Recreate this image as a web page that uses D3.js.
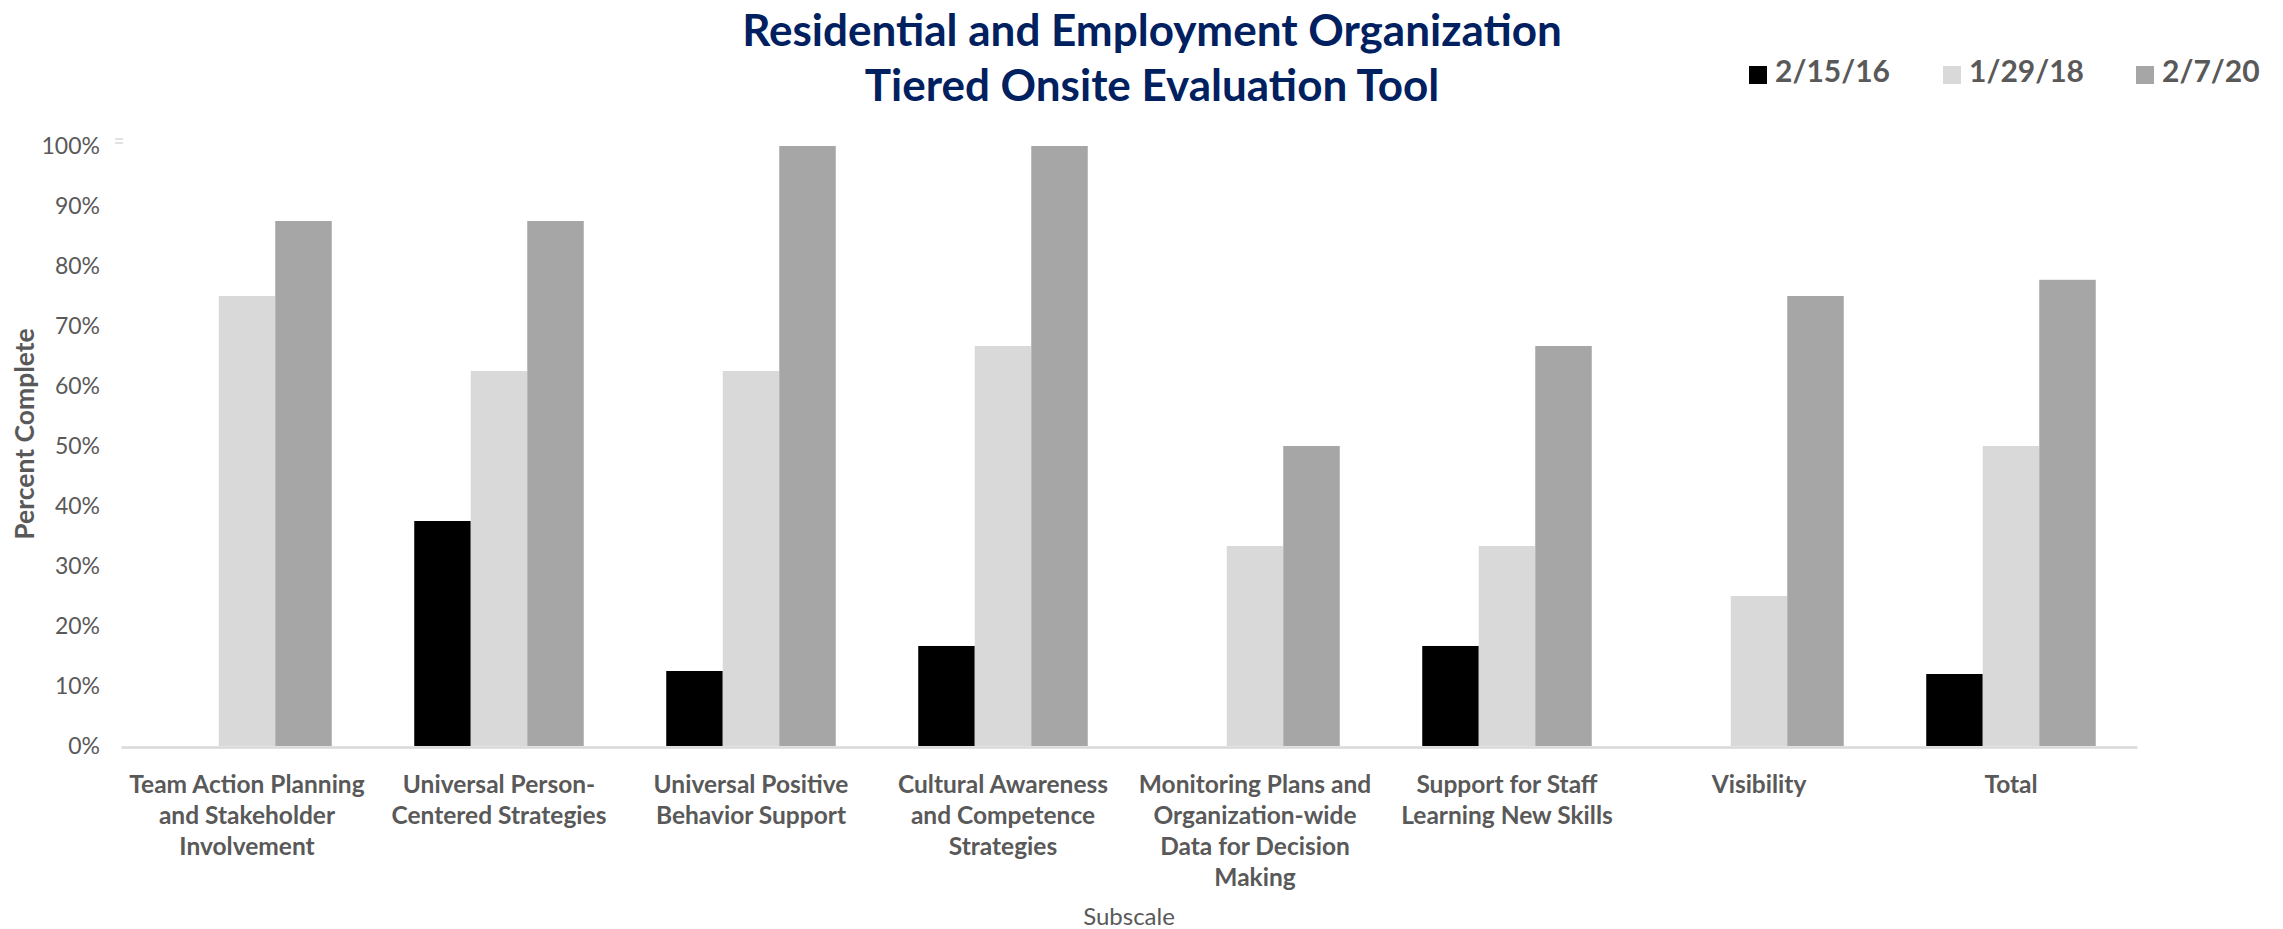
<!DOCTYPE html>
<html>
<head>
<meta charset="utf-8">
<script src="https://cdn.jsdelivr.net/npm/d3@7"></script>
<style>
  body { margin: 0; background: #fff; }
  svg { display: block; font-family: Lato, "Open Sans", sans-serif; }
</style>
</head>
<body>
<svg id="chart" width="2283" height="929"></svg>
<script>
// data
const subscales = [
  ["Team Action Planning", "and Stakeholder", "Involvement"],
  ["Universal Person-", "Centered Strategies"],
  ["Universal Positive", "Behavior Support"],
  ["Cultural Awareness", "and Competence", "Strategies"],
  ["Monitoring Plans and", "Organization-wide", "Data for Decision", "Making"],
  ["Support for Staff", "Learning New Skills"],
  ["Visibility"],
  ["Total"]
];
const dates = ["2/15/16", "1/29/18", "2/7/20"];
const val2016 = [0, 0.375, 0.125, 0.1667, 0, 0.1667, 0, 0.12];
const val2018 = [0.75, 0.625, 0.625, 0.6667, 0.3333, 0.3333, 0.25, 0.5];
const val2020 = [0.875, 0.875, 1.0, 1.0, 0.5, 0.6667, 0.75, 0.777];
const yTicks = [0, 0.1, 0.2, 0.3, 0.4, 0.5, 0.6, 0.7, 0.8, 0.9, 1.0];
const colors = ["#000000", "#d9d9d9", "#a6a6a6"];

const svg = d3.select("#chart");
const margin = {top: 146, right: 146, bottom: 183, left: 121},
  width = 2283 - margin.left - margin.right,
  height = 929 - margin.top - margin.bottom;

let rows = subscales.map((s, i) => ({
  key: i,
  label: s,
  vals: [val2016[i], val2018[i], val2020[i]]
}));

let x0 = d3.scaleBand()
  .domain(rows.map(d => d.key))
  .range([0, width]);

let x1 = d3.scaleBand()
  .domain([0, 1, 2])
  .range([0, x0.bandwidth()])
  .paddingOuter(0.73);

let y = d3.scaleLinear()
  .domain([0, 1])
  .range([height, 0]);

let g = svg.append("g")
  .attr("transform", "translate(" + margin.left + "," + margin.top + ")");

// title
svg.append("text")
  .attr("x", 1152).attr("y", 46)
  .attr("text-anchor", "middle")
  .style("font-size", "44px").style("font-weight", "bold")
  .attr("fill", "#002060")
  .text("Residential and Employment Organization");
svg.append("text")
  .attr("x", 1152).attr("y", 101)
  .attr("text-anchor", "middle")
  .style("font-size", "44px").style("font-weight", "bold")
  .attr("fill", "#002060")
  .text("Tiered Onsite Evaluation Tool");

// legend
let legendX = [1749, 1943, 2136];
let legend = svg.selectAll(".legend")
  .data(dates)
  .enter().append("g")
  .attr("class", "legend")
  .attr("transform", (d, i) => "translate(" + legendX[i] + ",66)");
legend.append("rect")
  .attr("width", 18).attr("height", 18)
  .attr("fill", (d, i) => colors[i]);
legend.append("text")
  .attr("x", 26).attr("y", 16)
  .style("font-size", "30px").style("font-weight", "bold")
  .attr("fill", "#595959")
  .text(d => d);

// y axis
let yAxis = g.append("g")
  .call(d3.axisLeft(y).tickValues(yTicks).tickSize(0).tickPadding(21).tickFormat(d3.format(".0%")));
yAxis.select(".domain").remove();
yAxis.selectAll("text")
  .style("font-size", "23px")
  .style("font-family", "Lato, sans-serif")
  .attr("fill", "#595959");

// small mark next to 100%
g.append("line").attr("x1", -6).attr("x2", 2).attr("y1", -7).attr("y2", -7)
  .attr("stroke", "#d9d9d9").attr("stroke-width", 1.5);
g.append("line").attr("x1", -6).attr("x2", 2).attr("y1", -3).attr("y2", -3)
  .attr("stroke", "#d9d9d9").attr("stroke-width", 1.5);

// bars
let groups = g.selectAll(".grp")
  .data(rows)
  .enter().append("g")
  .attr("class", "grp")
  .attr("transform", d => "translate(" + x0(d.key) + ",0)");

groups.selectAll("rect")
  .data(d => d.vals.map((v, i) => ({i: i, v: v})))
  .enter().append("rect")
  .attr("x", d => x1(d.i))
  .attr("width", x1.bandwidth())
  .attr("y", d => y(d.v))
  .attr("height", d => height - y(d.v))
  .attr("fill", d => colors[d.i]);

// x axis
let xAxis = g.append("g")
  .attr("transform", "translate(0," + (height + 1) + ")")
  .call(d3.axisBottom(x0).tickSize(0).tickFormat(""));
xAxis.select(".domain")
  .attr("stroke", "#d9d9d9")
  .attr("stroke-width", 2.5);

let labels = g.selectAll(".xlab")
  .data(rows)
  .enter().append("text")
  .attr("class", "xlab")
  .attr("text-anchor", "middle")
  .style("font-size", "24.5px").style("font-weight", "bold")
  .attr("fill", "#595959");
labels.selectAll("tspan")
  .data(d => d.label.map(l => ({l: l, x: x0(d.key) + x0.bandwidth() / 2})))
  .enter().append("tspan")
  .attr("x", d => d.x)
  .attr("y", (d, i) => height + 47 + i * 31)
  .text(d => d.l);

// axis titles
svg.append("text")
  .attr("transform", "translate(34," + (margin.top + height / 2 - 12) + ") rotate(-90)")
  .attr("text-anchor", "middle")
  .style("font-size", "26.5px").style("font-weight", "bold")
  .attr("fill", "#595959")
  .text("Percent Complete");

svg.append("text")
  .attr("x", margin.left + width / 2).attr("y", 925)
  .attr("text-anchor", "middle")
  .style("font-size", "24px")
  .attr("fill", "#595959")
  .text("Subscale");
</script>
</body>
</html>
